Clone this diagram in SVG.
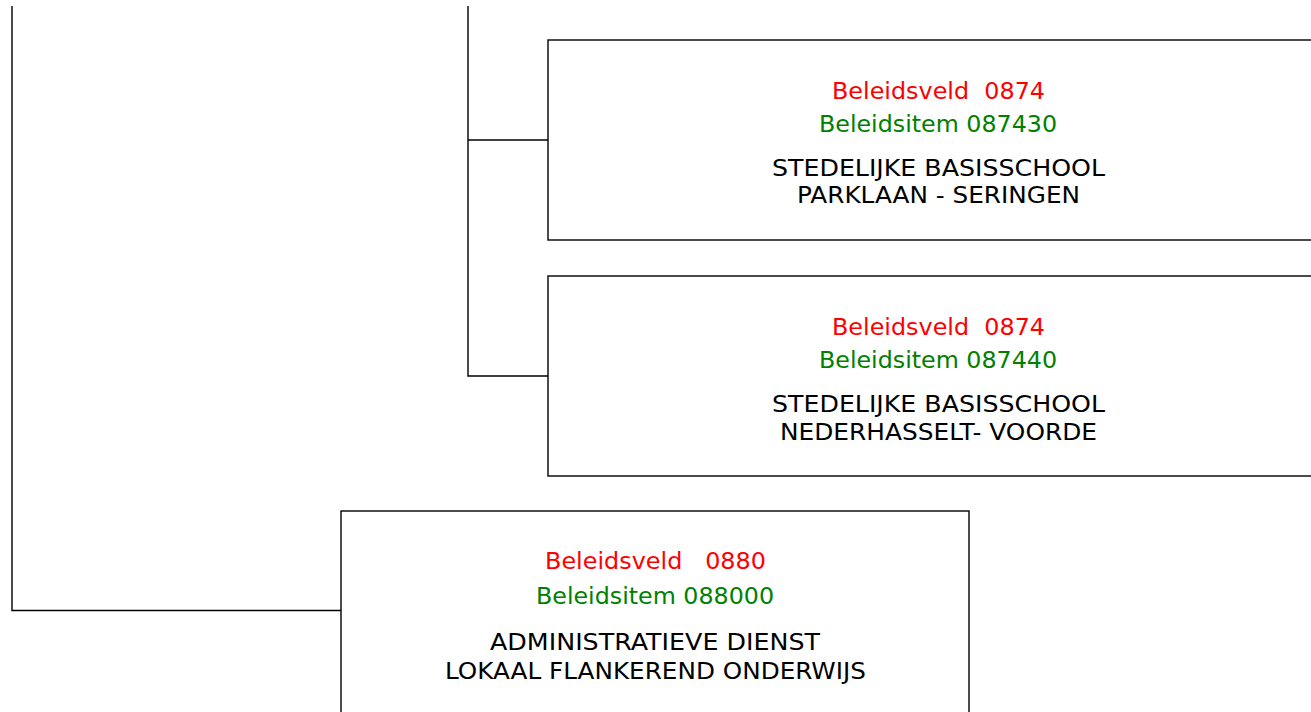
<svg xmlns="http://www.w3.org/2000/svg" width="1311" height="712" viewBox="0 0 1311 712">
<style>
.box{fill:#fff;stroke:#000;stroke-width:1.4}
.c{fill:none;stroke:#000;stroke-width:1.4}
text{font-family:"DejaVu Sans",Verdana,sans-serif;font-size:23px;text-anchor:middle;white-space:pre}
.r{fill:#ff0000}.g{fill:#008000}.k{fill:#000}
</style>
<rect width="1311" height="712" fill="#fff"/>
<g id="connectors">
<polyline class="c" points="12,6 12,610.5 341,610.5"/>
<polyline class="c" points="468,6 468,376 548,376"/>
<line class="c" x1="468" y1="140" x2="548" y2="140"/>
</g>
<g id="n087430">
<rect class="box" x="548" y="40" width="790" height="200"/>
<text class="r" x="938.5" y="99" textLength="213" lengthAdjust="spacingAndGlyphs" xml:space="preserve">Beleidsveld  0874</text>
<text class="g" x="938" y="132" textLength="238" lengthAdjust="spacingAndGlyphs">Beleidsitem 087430</text>
<text class="k" x="938.5" y="175.5" textLength="333" lengthAdjust="spacingAndGlyphs">STEDELIJKE BASISSCHOOL</text>
<text class="k" x="938.5" y="203" textLength="283" lengthAdjust="spacingAndGlyphs">PARKLAAN - SERINGEN</text>
</g>
<g id="n087440">
<rect class="box" x="548" y="276" width="790" height="200"/>
<text class="r" x="938.5" y="335" textLength="213" lengthAdjust="spacingAndGlyphs" xml:space="preserve">Beleidsveld  0874</text>
<text class="g" x="938" y="368" textLength="238" lengthAdjust="spacingAndGlyphs">Beleidsitem 087440</text>
<text class="k" x="938.5" y="411.5" textLength="333" lengthAdjust="spacingAndGlyphs">STEDELIJKE BASISSCHOOL</text>
<text class="k" x="938.5" y="439.5" textLength="317" lengthAdjust="spacingAndGlyphs">NEDERHASSELT- VOORDE</text>
</g>
<g id="n088000">
<rect class="box" x="341" y="511" width="628" height="220"/>
<text class="r" x="655.5" y="569" textLength="221" lengthAdjust="spacingAndGlyphs" xml:space="preserve">Beleidsveld   0880</text>
<text class="g" x="655" y="603.5" textLength="238" lengthAdjust="spacingAndGlyphs">Beleidsitem 088000</text>
<text class="k" x="655" y="649.5" textLength="330" lengthAdjust="spacingAndGlyphs">ADMINISTRATIEVE DIENST</text>
<text class="k" x="655.5" y="678.5" textLength="421" lengthAdjust="spacingAndGlyphs">LOKAAL FLANKEREND ONDERWIJS</text>
</g>
</svg>
